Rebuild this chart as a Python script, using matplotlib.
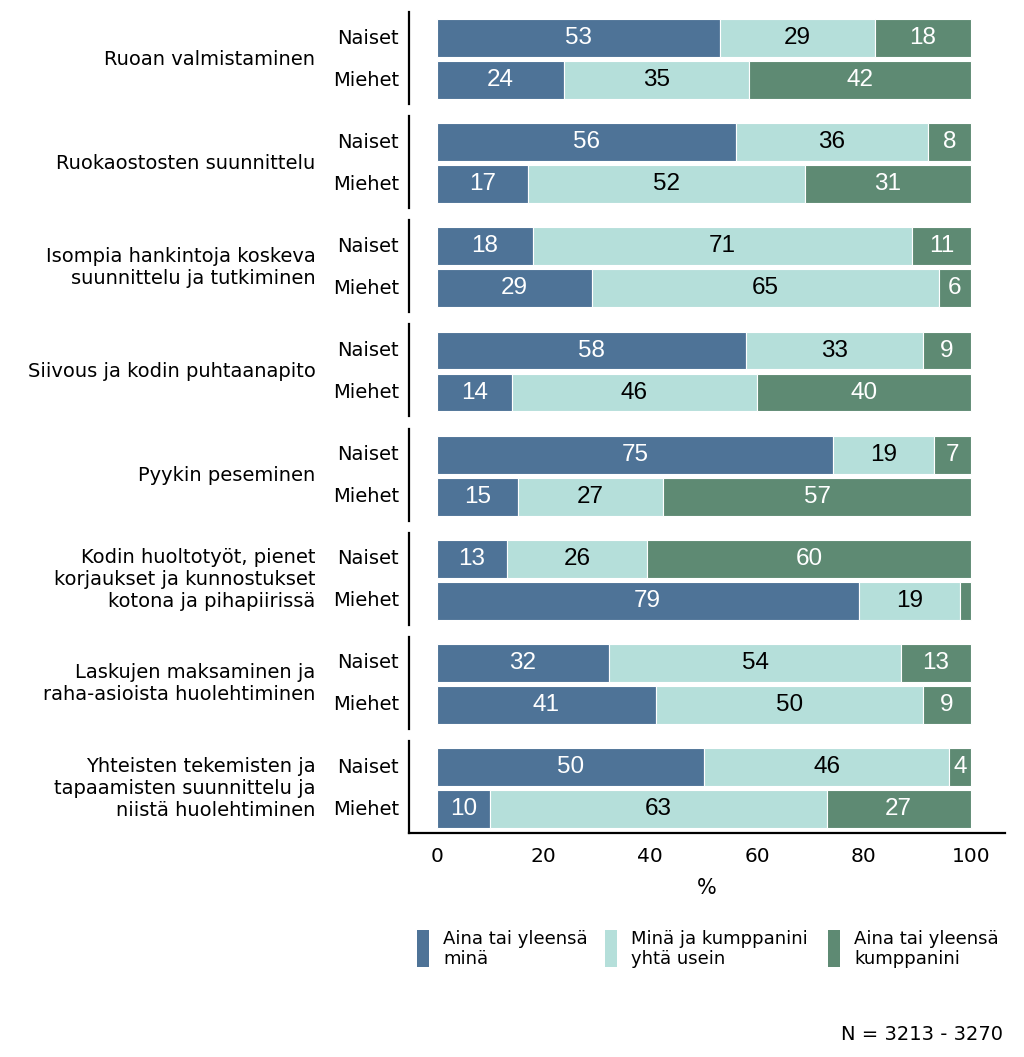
import matplotlib.pyplot as plt
import matplotlib.transforms as mtransforms
from matplotlib.patches import Rectangle

# Kategoriat ja arvot (%)
categories = [
    "Ruoan valmistaminen",
    "Ruokaostosten suunnittelu",
    "Isompia hankintoja koskeva\nsuunnittelu ja tutkiminen",
    "Siivous ja kodin puhtaanapito",
    "Pyykin peseminen",
    "Kodin huoltotyöt, pienet\nkorjaukset ja kunnostukset\nkotona ja pihapiirissä",
    "Laskujen maksaminen ja\nraha-asioista huolehtiminen",
    "Yhteisten tekemisten ja\ntapaamisten suunnittelu ja\nniistä huolehtiminen",
]
genders = ["Naiset", "Miehet"]

naiset_mina = [53, 56, 18, 58, 75, 13, 32, 50]
naiset_yhta = [29, 36, 71, 33, 19, 26, 54, 46]
naiset_kumppani = [18, 8, 11, 9, 7, 60, 13, 4]

miehet_mina = [24, 17, 29, 14, 15, 79, 41, 10]
miehet_yhta = [35, 52, 65, 46, 27, 19, 50, 63]
miehet_kumppani = [42, 31, 6, 40, 57, 2, 9, 27]

legend_labels = ["Aina tai yleensä\nminä", "Minä ja kumppanini\nyhtä usein",
                 "Aina tai yleensä\nkumppanini"]
colors = ["#4E7397", "#B5DFDA", "#5E8A73"]
text_colors = ["white", "black", "white"]

LABEL_FONT = "DejaVu Sans"
NUM_FONT = "Liberation Sans"

fig = plt.figure(figsize=(10.24, 10.57), dpi=100)
ax = fig.add_axes([0.3994, 0.2119, 0.582, 0.7767])
trans = mtransforms.blended_transform_factory(ax.transAxes, ax.transData)

group_step = 2.48
bar_h = 0.9

for g in range(len(categories)):
    y_n = g * group_step
    y_m = y_n + 1
    rows = [
        (y_n, [naiset_mina[g], naiset_yhta[g], naiset_kumppani[g]]),
        (y_m, [miehet_mina[g], miehet_yhta[g], miehet_kumppani[g]]),
    ]
    for y, vals in rows:
        # pyöristetyt luvut eivät aina summaudu sataan -> skaalataan palkki
        total = sum(vals)
        left = 0
        for k, v in enumerate(vals):
            w = v * 100 / total
            ax.barh(y, w, left=left, height=bar_h, color=colors[k],
                    edgecolor="white", linewidth=0.8)
            if v >= 4:
                ax.text(left + w / 2, y, str(v), ha="center", va="center",
                        color=text_colors[k], fontsize=17.5, family=NUM_FONT)
            left += w

    # sukupuolten nimet ja ryhmän pystyviiva
    ax.text(-0.017, y_n, genders[0], transform=trans, ha="right", va="center",
            fontsize=14, family=LABEL_FONT)
    ax.text(-0.017, y_m, genders[1], transform=trans, ha="right", va="center",
            fontsize=14, family=LABEL_FONT)
    ax.plot([0, 0], [y_n - 0.62, y_m + 0.57], transform=trans, color="black",
            linewidth=1.6, clip_on=False)
    ax.text(-0.157, (y_n + y_m) / 2, categories[g], transform=trans,
            ha="right", va="center", fontsize=14, family=LABEL_FONT,
            linespacing=1.2)

ax.set_xlim(-5.2, 106.4)
ax.set_ylim(18.93, -0.62)
ax.set_yticks([])
ax.set_xticks([0, 20, 40, 60, 80, 100])
ax.tick_params(axis="x", length=0, labelsize=14.5, pad=10)
for lab in ax.get_xticklabels():
    lab.set_family(LABEL_FONT)
ax.set_xlabel("%", fontsize=15, family=LABEL_FONT, labelpad=9)
for s in ["top", "right", "left"]:
    ax.spines[s].set_visible(False)
ax.spines["bottom"].set_linewidth(1.6)

# selite käsin: kapeat pystypalkit + kaksirivinen teksti
W, H = 1024, 1057
legend_x = [417, 605, 828]
for i, lab in enumerate(legend_labels):
    x0 = legend_x[i]
    fig.add_artist(Rectangle((x0 / W, 1 - 967 / H), 12 / W, 37 / H,
                             transform=fig.transFigure, facecolor=colors[i],
                             edgecolor="none"))
    fig.text((x0 + 26) / W, 1 - 949 / H, lab, ha="left", va="center",
             fontsize=13, family=LABEL_FONT, linespacing=1.1)

fig.text(1003 / W, 1 - 1035 / H, "N = 3213 - 3270", ha="right", va="center",
         fontsize=14, family=LABEL_FONT)

fig.savefig("out.png", dpi=100)
